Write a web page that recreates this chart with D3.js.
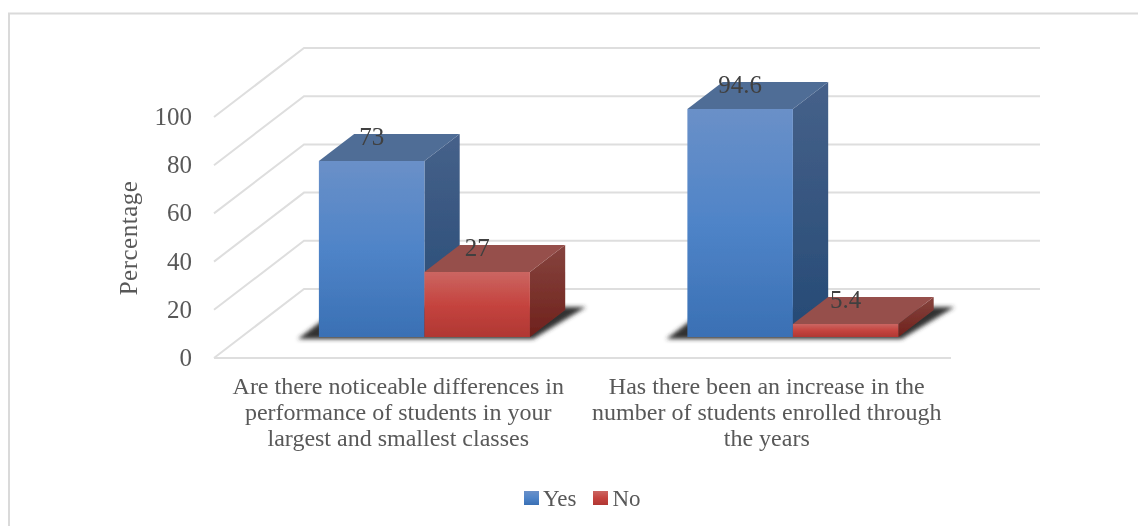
<!DOCTYPE html>
<html><head><meta charset="utf-8">
<script src="https://cdn.jsdelivr.net/npm/d3@7"></script>
<style>html,body{margin:0;padding:0;background:#fff}svg{display:block}</style>
</head><body><svg id="c" width="1138" height="526"></svg>
<script>
const categories = [
  ["Are there noticeable differences in","performance of students in your","largest and smallest classes"],
  ["Has there been an increase in the","number of students enrolled through","the years"]
];
const seriesNames = ["Yes","No"];
const yesValues = [73, 94.6];
const noValues = [27, 5.4];
const yTicks = [0,20,40,60,80,100];
const yTitle = "Percentage";

const svg = d3.select("#c");
const serif = "'Liberation Serif',serif";
const ink = "#595959";

const defs = svg.append("defs");
function grad(id, stops){
  const g = defs.append("linearGradient").attr("id",id).attr("x1",0).attr("y1",0).attr("x2",0).attr("y2",1);
  stops.forEach(s=>g.append("stop").attr("offset",s[0]).attr("stop-color",s[1]));
}
grad("yesFront",[[0,"#6a90c8"],[0.5,"#4f84c8"],[1,"#3a70b4"]]);
grad("noFront",[[0,"#cb6662"],[0.5,"#c5443f"],[1,"#b03733"]]);
grad("yesSide",[[0,"#46618a"],[1,"#254a75"]]);
grad("noSide",[[0,"#86443e"],[1,"#6f211c"]]);
defs.append("filter").attr("id","soft").attr("x","-5%").attr("y","-5%").attr("width","110%").attr("height","110%")
  .append("feGaussianBlur").attr("stdDeviation",0.45);
defs.append("filter").attr("id","shadow").attr("x","-20%").attr("y","-30%").attr("width","140%").attr("height","160%")
  .append("feGaussianBlur").attr("stdDeviation",2);

// frame
svg.append("path").attr("d","M9,526V13.5H1138").attr("fill","none").attr("stroke","#dadada").attr("stroke-width",2);

// 3D projection: u = x along floor, v = value, d = depth (0 front .. 1 back)
const y = d3.scaleLinear().domain([0,100]).range([358,117]);
const x0 = d3.scaleBand().domain(d3.range(categories.length)).range([212.8,949.8]);
const x1 = d3.scaleBand().domain(seriesNames).range([0,x0.bandwidth()]).paddingInner(0).paddingOuter(0.746);
const depth = d3.scaleLinear().domain([0,1]);
const dxS = depth.copy().range([0,90]);
const dyS = depth.copy().range([0,-69]);
const P = (u,v,d)=>[u+dxS(d), y(v)+dyS(d)];
const poly = pts => "M"+pts.map(p=>p.join(",")).join("L")+"Z";

const walls = svg.append("g").attr("filter","url(#soft)");
yTicks.forEach(t=>{
  walls.append("path").attr("fill","none").attr("stroke","#dedede").attr("stroke-width",2)
    .attr("d", d3.line()([P(214,t,0),P(214,t,1),P(950,t,1)]));
});
walls.append("line").attr("x1",214).attr("x2",951).attr("y1",y(0)).attr("y2",y(0)).attr("stroke","#dedede").attr("stroke-width",2);

const d0 = 0.304, d1 = 0.696;

// floor shadows
const shadows = svg.append("g");
categories.forEach((c,i)=>{
  const l = P(x0(i)+x1("Yes"),0,d0)[0], r = P(x0(i)+x1("No")+x1.bandwidth(),0,d0)[0];
  shadows.append("path").attr("filter","url(#shadow)").attr("fill","#333")
    .attr("d",poly([[l-21,y(0)-19],[r+3,y(0)-19],[r+56,y(0)-51],[l+21,y(0)-51]]));
});

const marks = svg.append("g").attr("filter","url(#soft)");
const rows = [["Yes",yesValues,"yes","#4f6d96"],["No",noValues,"no","#964f4b"]];
categories.forEach((c,i)=>{
  rows.forEach(([name,vals,key,topCol])=>{
    const l = x0(i)+x1(name), r = l+x1.bandwidth(), v = vals[i];
    marks.append("path").attr("fill",`url(#${key}Side)`).attr("d",poly([P(r,0,d0),P(r,v,d0),P(r,v,d1),P(r,0,d1)]));
    marks.append("path").attr("fill",topCol).attr("d",poly([P(l,v,d0),P(r,v,d0),P(r,v,d1),P(l,v,d1)]));
    marks.append("path").attr("fill",`url(#${key}Front)`).attr("d",poly([P(l,0,d0),P(r,0,d0),P(r,v,d0),P(l,v,d0)]));
  });
});
// text layer, softened slightly like the reference
const txt = svg.append("g").attr("filter","url(#soft)");
// data labels
categories.forEach((c,i)=>{
  rows.forEach(([name,vals])=>{
    const l = x0(i)+x1(name), r = l+x1.bandwidth(), v = vals[i];
    const p = P((l+r)/2,v,d0);
    txt.append("text").attr("x",p[0]).attr("y",p[1]-16).attr("text-anchor","middle")
      .attr("font-family",serif).attr("font-size",25).attr("fill","#404040").text(v);
  });
});

// y axis labels
const axisG = txt.append("g").attr("transform","translate(192,0)")
  .call(d3.axisLeft(y).tickValues(yTicks).tickSize(0).tickPadding(0).tickFormat(d3.format("d")));
axisG.select(".domain").remove();
axisG.selectAll("text").attr("font-family",serif).attr("font-size",25).attr("fill",ink).attr("dy","0.3em");

txt.append("text").attr("transform","translate(137,238) rotate(-90)").attr("text-anchor","middle")
  .attr("font-family",serif).attr("font-size",25).attr("letter-spacing",0.5).attr("fill",ink).text(yTitle);

// category labels
categories.forEach((lines,i)=>{
  const cx = x0(i)+x0.bandwidth()/2+1.2;
  lines.forEach((t,j)=>{
    txt.append("text").attr("x",cx).attr("y",394+j*26).attr("text-anchor","middle")
      .attr("font-family",serif).attr("font-size",24).attr("fill",ink).text(t);
  });
});

// legend
const leg = [[524,543],[593,612.5]];
leg.forEach((d,i)=>{
  svg.append("rect").attr("x",d[0]).attr("y",491).attr("width",15).attr("height",14).attr("fill",`url(#${i?"no":"yes"}Front)`);
  txt.append("text").attr("x",d[1]).attr("y",506).attr("font-family",serif).attr("font-size",23).attr("fill",ink).text(seriesNames[i]);
});
</script></body></html>
